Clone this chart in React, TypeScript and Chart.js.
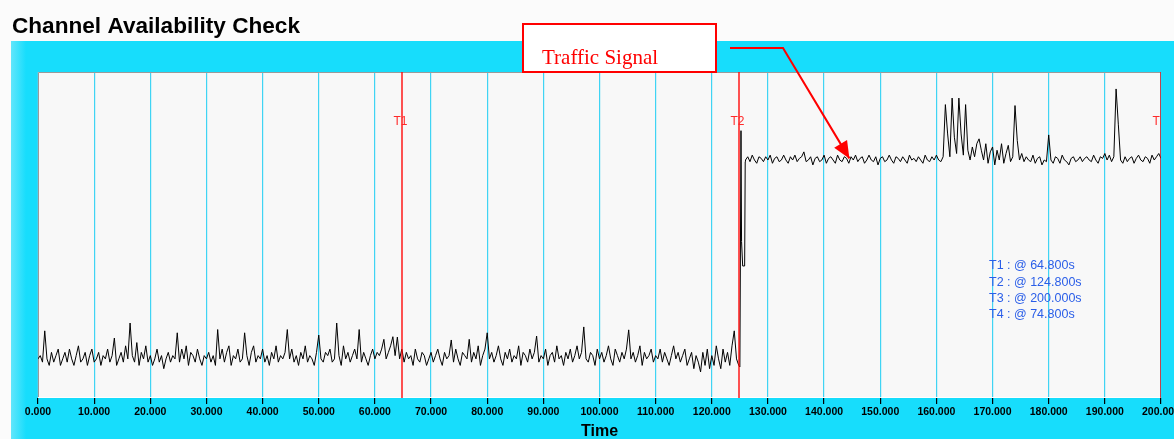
import React, { useEffect, useRef } from "react";
import { Chart, registerables } from "chart.js";

Chart.register(...registerables);

// ---- data ----
const TITLE = "Channel Availability Check";
const X_TITLE = "Time";
const X_MIN = 0;
const X_MAX = 200;
const X_STEP = 10;
const Y_MIN = 0;
const Y_MAX = 100;

const SAMPLE_STEP = 0.4;
const LOW_START = 0;
// noise floor before the traffic signal (t = 0 .. 124.8 s)
const lowValues = [
  12, 13, 11, 20.6, 12, 10, 14, 11, 13, 15, 10, 12, 14, 11, 15, 12, 10, 13, 16, 11, 12, 14, 10, 13, 15,
  11, 12, 14, 10, 13, 12, 15, 11, 13, 18.4, 10, 12, 14, 11, 16, 12, 23, 13, 11, 17, 10, 14, 12, 16, 11,
  13, 10, 12, 15, 11, 13, 9, 12, 14, 11, 13, 12, 20, 11, 15, 12, 16, 10, 14, 13, 11, 15, 12, 10, 13,
  12, 14, 11, 13, 10, 21, 12, 15, 11, 14, 16, 10, 13, 12, 15, 11, 12, 20, 13, 10, 14, 16, 11, 13, 12,
  15, 11, 13, 10, 14, 12, 16, 11, 13, 12, 14, 21, 12, 15, 11, 13, 10, 14, 12, 16, 11, 13, 12, 10, 14,
  19.3, 12, 11, 14, 13, 15, 11, 12, 23, 13, 10, 16, 12, 14, 11, 13, 15, 12, 21, 11, 14, 12, 10, 13, 15,
  12, 14, 13, 15, 18, 12, 14, 16, 18.8, 13, 18.7, 12, 15, 11, 14, 12, 13, 10, 15, 12, 11, 14, 13, 10, 12,
  14, 11, 13, 15, 12, 10, 14, 12, 13, 17.8, 11, 15, 12, 10, 14, 13, 12, 18, 11, 14, 12, 16, 10, 13, 15,
  20, 12, 14, 11, 13, 16, 12, 10, 14, 12, 15, 11, 13, 12, 16, 10, 14, 13, 11, 15, 12, 14, 19, 11, 13,
  12, 15, 10, 13, 14, 11, 16, 12, 13, 10, 14, 12, 15, 11, 13, 16, 12, 14, 21.8, 12, 11, 14, 13, 10, 15,
  12, 14, 11, 13, 16, 12, 10, 15, 13, 11, 14, 12, 15, 20.9, 12, 14, 11, 13, 16, 10, 14, 12, 13, 15, 11,
  13, 12, 15, 11, 14, 12, 10, 13, 16, 12, 14, 11, 13, 15, 10, 12, 14, 9, 13, 11, 8, 14, 10, 15, 9,
  13, 10, 16, 12, 9, 15, 11, 14, 10, 16, 20.6, 12, 10,
];

// switch-on transient
const transitionTimes = [125.0, 125.2, 125.3, 125.5, 125.85, 125.95];
const transitionValues = [9.5, 82, 48, 40.5, 40.5, 72.5];

const HIGH_START = 126.0;
// traffic signal level (t = 126 .. 200 s)
const highValues = [
  73, 74, 72.5, 74.5, 73, 72, 74, 73.5, 72.5, 74, 73, 74.5, 72, 73.5, 74, 72.5, 73, 74.5, 73, 72, 74, 73, 74.5, 72.5, 73.5,
  74, 75.5, 72.5, 73, 74, 71.5, 73.5, 74, 72.5, 73, 74.5, 72, 73.5, 74, 73, 72, 74.5, 73, 72.5, 74, 73.5, 72, 74, 73, 74.5,
  72.5, 73.5, 74, 72, 73, 74.5, 73, 72.5, 74, 71.5, 73.5, 74, 72.5, 73, 74.5, 73, 72, 74, 73.5, 72.5, 74, 73, 72, 74.5, 73,
  73.5, 72.5, 74, 73, 72, 74.5, 73, 72.5, 74, 73, 74.5, 73, 72.5, 74, 90, 81, 74, 92, 80, 75, 92, 81, 74.5, 90, 76,
  73, 77, 74, 78, 79.5, 76, 73, 78, 72, 75.5, 77, 71.5, 76, 73, 78, 72, 75, 77.5, 72.5, 74, 89.7, 79, 73, 75, 72.5,
  74, 73, 72.5, 74.5, 72, 73.5, 74, 71.5, 73, 72.5, 80.7, 73, 72, 74, 73.5, 72, 74.5, 73, 72.5, 71.5, 73.5, 74, 72.5, 73, 74,
  72.5, 73.5, 74, 73, 72.5, 74.5, 73, 72, 74, 73.5, 75, 73, 74.5, 72.5, 74, 94.8, 84, 73, 72, 74, 72.5, 73.5, 74, 72, 73.5,
  74.5, 73, 72.5, 74, 73.5, 72, 74.5, 73, 74, 75, 73.5,
];

// cursors
const cursorNames = ["T1", "T2", "T3", "T4"];
const cursorTimes = [64.8, 124.8, 200.0, 74.8];
const drawnCursors = ["T1", "T2", "T3"];

// annotation
const ANNOTATION_TEXT = "Traffic Signal";
const ARROW_TIP_T = 144.5;
const ARROW_TIP_V = 73.5;

// ---- styles ----
const W = 1174;
const H = 439;
const SANS = '"Liberation Sans", Arial, sans-serif';
const SERIF = '"Liberation Serif", "Times New Roman", serif';
const PAGE_BG = "#fbfbfb";
const PANEL = "#17ddfc";
const PANEL_LIGHT = "#62e6fb";
const PLOT_BG = "#f8f8f8";
const GRID = "#3fd4f4";
const RED = "#ff0000";
const BLUE = "#2a5ee8";

const points: { x: number; y: number }[] = [];
lowValues.forEach((v, i) => points.push({ x: LOW_START + i * SAMPLE_STEP, y: v }));
transitionTimes.forEach((t, i) => points.push({ x: t, y: transitionValues[i] }));
highValues.forEach((v, i) => points.push({ x: +(HIGH_START + i * SAMPLE_STEP).toFixed(2), y: v }));

const decorPlugin = {
  id: "decor",
  beforeDraw(chart: any) {
    const { ctx, chartArea: a } = chart;
    ctx.save();
    ctx.fillStyle = PAGE_BG;
    ctx.fillRect(0, 0, W, H);
    // title
    ctx.fillStyle = "#000";
    ctx.font = `bold 22.6px ${SANS}`;
    ctx.textAlign = "left";
    ctx.textBaseline = "alphabetic";
    ctx.fillText(TITLE, 12, 33);
    // cyan panel
    ctx.fillStyle = PANEL;
    ctx.fillRect(11, 41, W - 11, H - 41);
    const g = ctx.createLinearGradient(11, 0, 26, 0);
    g.addColorStop(0, PANEL_LIGHT);
    g.addColorStop(1, PANEL);
    ctx.fillStyle = g;
    ctx.fillRect(11, 41, 15, H - 41);
    // plot bg
    ctx.fillStyle = PLOT_BG;
    ctx.fillRect(a.left, a.top, a.right - a.left, a.bottom - a.top);
    ctx.restore();
  },
  beforeDatasetsDraw(chart: any) {
    const { ctx, chartArea: a } = chart;
    ctx.save();
    ctx.strokeStyle = "#9a9a9a";
    ctx.lineWidth = 1;
    ctx.beginPath();
    ctx.moveTo(a.left + 0.5, a.bottom);
    ctx.lineTo(a.left + 0.5, a.top + 0.5);
    ctx.lineTo(a.right, a.top + 0.5);
    ctx.stroke();
    ctx.strokeStyle = "#ffffff";
    ctx.beginPath();
    ctx.moveTo(a.left, a.bottom - 0.5);
    ctx.lineTo(a.right, a.bottom - 0.5);
    ctx.stroke();
    ctx.restore();
  },
  afterDatasetsDraw(chart: any) {
    const { ctx, chartArea: a, scales } = chart;
    const xs = scales.x;
    const ys = scales.y;
    ctx.save();
    ctx.beginPath();
    ctx.rect(a.left, a.top, a.right - a.left, a.bottom - a.top);
    ctx.clip();
    // cursor lines
    cursorNames.forEach((n, i) => {
      if (!drawnCursors.includes(n)) return;
      const px = Math.round(xs.getPixelForValue(cursorTimes[i]));
      ctx.strokeStyle = RED;
      ctx.globalAlpha = 0.9;
      ctx.lineWidth = 1.5;
      ctx.beginPath();
      ctx.moveTo(px, a.top);
      ctx.lineTo(px, a.bottom);
      ctx.stroke();
      ctx.globalAlpha = 1;
      ctx.fillStyle = "#ff2a2a";
      ctx.font = `12px ${SANS}`;
      ctx.textAlign = "center";
      ctx.textBaseline = "middle";
      ctx.fillText(n, px - 1.5, a.top + 50);
    });
    // readout
    ctx.fillStyle = BLUE;
    ctx.font = `12.5px ${SANS}`;
    ctx.textAlign = "left";
    ctx.textBaseline = "middle";
    cursorNames.forEach((n, i) => {
      ctx.fillText(`${n} : @ ${cursorTimes[i].toFixed(3)}s`, a.right - 172, a.top + 194 + i * 16.3);
    });
    ctx.restore();

    // annotation
    ctx.save();
    const bx = 523, by = 24, bw = 193, bh = 48;
    ctx.fillStyle = "#ffffff";
    ctx.fillRect(bx, by, bw, bh);
    ctx.strokeStyle = RED;
    ctx.lineWidth = 2;
    ctx.strokeRect(bx, by, bw, bh);
    ctx.fillStyle = RED;
    ctx.font = `21px ${SERIF}`;
    ctx.textAlign = "left";
    ctx.textBaseline = "alphabetic";
    ctx.fillText(ANNOTATION_TEXT, 542, 64);
    const tx = xs.getPixelForValue(ARROW_TIP_T);
    const ty = ys.getPixelForValue(ARROW_TIP_V);
    const kx = 783, ky = 48;
    ctx.beginPath();
    ctx.moveTo(730, ky);
    ctx.lineTo(kx, ky);
    ctx.lineTo(tx, ty);
    ctx.stroke();
    const ang = Math.atan2(ty - ky, tx - kx);
    const L = 17, hw = 7.5;
    const bxp = tx - L * Math.cos(ang), byp = ty - L * Math.sin(ang);
    ctx.beginPath();
    ctx.moveTo(tx, ty);
    ctx.lineTo(bxp + hw * Math.sin(ang), byp - hw * Math.cos(ang));
    ctx.lineTo(bxp - hw * Math.sin(ang), byp + hw * Math.cos(ang));
    ctx.closePath();
    ctx.fill();
    ctx.restore();
  },
};

export default function App() {
  const ref = useRef<HTMLCanvasElement | null>(null);
  useEffect(() => {
    document.body.style.margin = "0";
    document.body.style.background = PAGE_BG;
    const canvas = ref.current!;
    const chart = new Chart(canvas, {
      type: "line",
      data: {
        datasets: [
          {
            data: points,
            borderColor: "#000000",
            borderWidth: 1,
            pointRadius: 0,
            tension: 0,
            fill: false,
          },
        ],
      },
      options: {
        animation: false,
        responsive: false,
        maintainAspectRatio: false,
        devicePixelRatio: 1,
        layout: { padding: { left: 38, right: 13, top: 72, bottom: 0 } },
        plugins: {
          legend: { display: false },
          tooltip: { enabled: false },
          title: { display: false },
        },
        scales: {
          x: {
            type: "linear",
            min: X_MIN,
            max: X_MAX,
            ticks: {
              stepSize: X_STEP,
              autoSkip: false,
              maxRotation: 0,
              padding: 2,
              color: "#000",
              font: { family: SANS, size: 10.5, weight: "bold" },
              callback: (v: any) => Number(v).toFixed(3),
            },
            grid: {
              color: GRID,
              lineWidth: 1.2,
              tickColor: "#000",
              tickLength: 6,
              drawOnChartArea: true,
            },
            border: { display: false },
            title: {
              display: true,
              text: X_TITLE,
              color: "#000",
              font: { family: SANS, size: 16, weight: "bold", lineHeight: 1 },
              padding: { top: 0, bottom: -1 },
            },
            afterFit: (s: any) => {
              s.height = 41;
              s.paddingLeft = 0;
              s.paddingRight = 0;
            },
          },
          y: { display: false, min: Y_MIN, max: Y_MAX },
        },
      },
      plugins: [decorPlugin],
    } as any);
    return () => chart.destroy();
  }, []);
  return (
    <div style={{ position: "relative", width: W, height: H }}>
      <canvas ref={ref} width={W} height={H} style={{ display: "block", width: W, height: H }} />
    </div>
  );
}
